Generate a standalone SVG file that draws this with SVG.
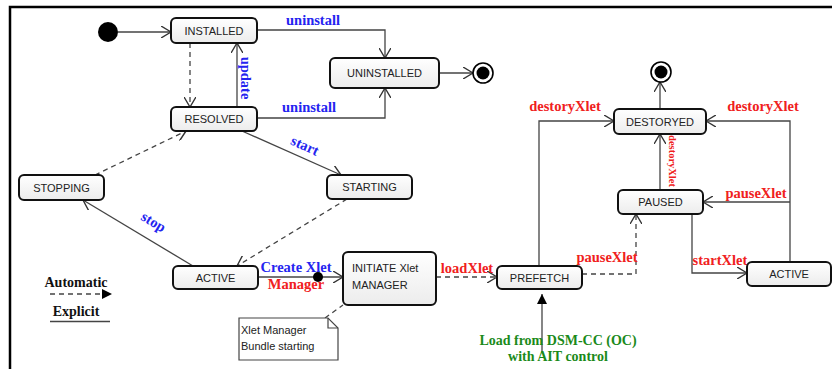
<svg xmlns="http://www.w3.org/2000/svg" width="832" height="369" viewBox="0 0 832 369">
  <defs>
    <linearGradient id="nodeFill" x1="0" y1="0" x2="0" y2="1">
      <stop offset="0" stop-color="#ffffff"/>
      <stop offset="1" stop-color="#ececec"/>
    </linearGradient>
    <marker id="open" viewBox="0 0 10 12" markerWidth="10" markerHeight="12" refX="10" refY="6" orient="auto" markerUnits="userSpaceOnUse">
      <path d="M0,0 L10,6 L0,12" fill="none" stroke="#333" stroke-width="1.4"/>
    </marker>
    <marker id="solidTip" viewBox="0 0 10 10" markerWidth="10" markerHeight="10" refX="10" refY="5" orient="auto" markerUnits="userSpaceOnUse">
      <path d="M0,0 L10,5 L0,10 Z" fill="#000"/>
    </marker>
    <style>
      .node rect { fill: url(#nodeFill); stroke: #111; stroke-width: 2; }
      .node text { font-family: "Liberation Sans", Arial, sans-serif; font-size: 11px; fill: #222; text-anchor: middle; }
      .edge { fill: none; stroke: #444; stroke-width: 1.3; }
      .arrow { marker-end: url(#open); }
      .dash { stroke-dasharray: 5 4; }
      .lbl { font-family: "Liberation Serif", "Times New Roman", serif; font-weight: bold; font-size: 14.5px; text-anchor: middle; }
      .blue { fill: #2424f0; }
      .red { fill: #f02020; }
      .green { fill: #1a8a1a; }
      .black { fill: #111; }
    </style>
  </defs>

  <rect width="832" height="369" fill="#ffffff"/>

  <!-- frame -->
  <path d="M10,369 V7 H832" fill="none" stroke="#000" stroke-width="2.5"/>

  <!-- connectors -->
  <g id="connectors">
    <path class="edge arrow" d="M118,32 L171,32"/>
    <path class="edge arrow" d="M257,30 H385 V58"/>
    <path class="edge arrow" d="M257,118 H385 V88"/>
    <path class="edge arrow dash" d="M190,43 V107"/>
    <path class="edge arrow" d="M237,107 V43"/>
    <path class="edge arrow" d="M242,131 L341,175"/>
    <path class="edge arrow dash" d="M95,175 L186,131"/>
    <path class="edge arrow dash" d="M347,199 L237,266"/>
    <path class="edge arrow" d="M193,266 L83,200"/>
    <path class="edge arrow" d="M258,277 H343"/>
    <circle cx="318" cy="277" r="5" fill="#000"/>
    <path class="edge dash" d="M325,318 L343,305"/>
    <path class="edge arrow dash" d="M436,277 H497"/>
    <path class="edge arrow" d="M439,73 H473"/>
    <path class="edge arrow" d="M539,266 V121 H614"/>
    <path class="edge arrow dash" d="M582,274 H636 V214"/>
    <path class="edge arrow" d="M660,190 V134"/>
    <path class="edge arrow" d="M660,109 V82"/>
    <path class="edge arrow" d="M790,262 V121 H706"/>
    <path class="edge arrow" d="M790,202 H703"/>
    <path class="edge arrow" d="M692,214 V273 H747"/>
    <path class="edge" d="M542,352 V294" marker-end="url(#solidTip)"/>
  </g>

  <!-- transition labels -->
  <g id="labels">
    <text class="lbl blue" x="313" y="25">uninstall</text>
    <text class="lbl blue" x="309" y="112">uninstall</text>
    <text class="lbl blue" transform="translate(241,78) rotate(90)">update</text>
    <text class="lbl blue" transform="translate(303,150) rotate(24)">start</text>
    <text class="lbl blue" transform="translate(151,226) rotate(31)">stop</text>
    <text class="lbl blue" x="296" y="272">Create Xlet</text>
    <text class="lbl red" x="296" y="289">Manager</text>
    <text class="lbl red" x="467" y="273">loadXlet</text>
    <text class="lbl red" x="565" y="111">destoryXlet</text>
    <text class="lbl red" x="763" y="111">destoryXlet</text>
    <text class="lbl red" style="font-size:10.5px" transform="translate(669,161) rotate(90)">destoryXlet</text>
    <text class="lbl red" x="607" y="262">pauseXlet</text>
    <text class="lbl red" x="756" y="198">pauseXlet</text>
    <text class="lbl red" x="720" y="265">startXlet</text>
    <text class="lbl green" style="font-size:14px" x="558" y="345">Load from DSM-CC (OC)</text>
    <text class="lbl green" style="font-size:14px" x="558" y="361">with AIT control</text>
  </g>

  <!-- pseudo states -->
  <g id="initial">
    <circle cx="108" cy="32" r="10" fill="#000"/>
  </g>
  <g id="final-uninstalled">
    <circle cx="483" cy="73" r="10" fill="#fff" stroke="#000" stroke-width="1.6"/>
    <circle cx="483" cy="73" r="6.5" fill="#000"/>
  </g>
  <g id="final-destroyed">
    <circle cx="661" cy="72" r="10" fill="#fff" stroke="#000" stroke-width="1.6"/>
    <circle cx="661" cy="72" r="6.5" fill="#000"/>
  </g>

  <!-- states -->
  <g id="installed" class="node">
    <rect x="171" y="18" width="86" height="25" rx="5"/>
    <text x="214" y="35">INSTALLED</text>
  </g>
  <g id="uninstalled" class="node">
    <rect x="330" y="58" width="109" height="30" rx="5"/>
    <text x="384.500" y="77">UNINSTALLED</text>
  </g>
  <g id="resolved" class="node">
    <rect x="171" y="107" width="86" height="24" rx="5"/>
    <text x="214" y="123">RESOLVED</text>
  </g>
  <g id="stopping" class="node">
    <rect x="19" y="175" width="85" height="25" rx="5"/>
    <text x="61.500" y="192">STOPPING</text>
  </g>
  <g id="starting" class="node">
    <rect x="327" y="175" width="85" height="24" rx="5"/>
    <text x="369.500" y="191">STARTING</text>
  </g>
  <g id="active" class="node">
    <rect x="173" y="266" width="85" height="23" rx="5"/>
    <text x="215.500" y="282">ACTIVE</text>
  </g>
  <g id="initiate-manager" class="node">
    <rect x="343" y="252" width="93" height="53" rx="5"/>
    <text x="352" y="272" style="text-anchor:start">INITIATE Xlet</text>
    <text x="352" y="289" style="text-anchor:start">MANAGER</text>
  </g>
  <g id="prefetch" class="node">
    <rect x="497" y="266" width="85" height="23" rx="5"/>
    <text x="539.500" y="282">PREFETCH</text>
  </g>
  <g id="destroyed" class="node">
    <rect x="614" y="109" width="92" height="25" rx="5"/>
    <text x="660" y="126">DESTORYED</text>
  </g>
  <g id="paused" class="node">
    <rect x="618" y="190" width="85" height="24" rx="5"/>
    <text x="660.500" y="206">PAUSED</text>
  </g>
  <g id="active-xlet" class="node">
    <rect x="747" y="262" width="84" height="24" rx="5"/>
    <text x="789" y="278">ACTIVE</text>
  </g>

  <!-- note -->
  <g id="note">
    <path d="M239,318 H328 L338,328 V360 H239 Z" fill="#fff" stroke="#444" stroke-width="1.2"/>
    <path d="M328,318 V328 H338" fill="none" stroke="#444" stroke-width="1.2"/>
    <text x="241" y="334" font-family="Liberation Sans, Arial, sans-serif" font-size="11" fill="#222">Xlet Manager</text>
    <text x="241" y="350" font-family="Liberation Sans, Arial, sans-serif" font-size="11" fill="#222">Bundle starting</text>
  </g>

  <!-- legend -->
  <g id="legend">
    <text class="lbl black" style="font-size:14px" x="76" y="287">Automatic</text>
    <path class="edge dash" d="M50,294 H112" stroke="#333" marker-end="url(#solidTip)"/>
    <text class="lbl black" style="font-size:14px" x="76" y="316">Explicit</text>
    <path d="M50,321.500 H110" stroke="#444" stroke-width="1.3"/>
  </g>
</svg>
